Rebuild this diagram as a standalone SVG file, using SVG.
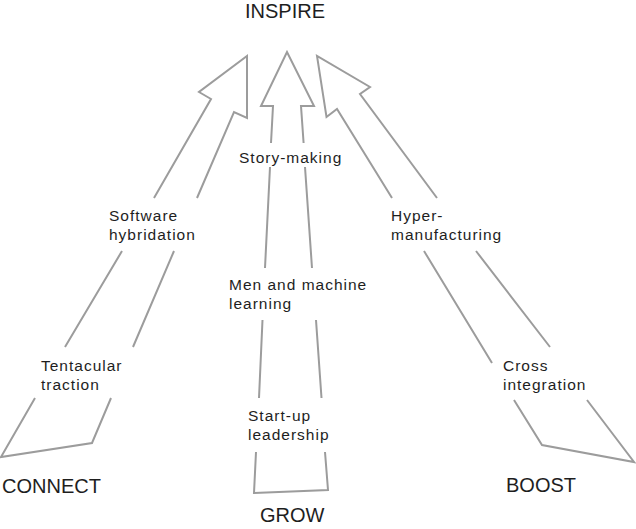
<svg xmlns="http://www.w3.org/2000/svg" width="636" height="529" viewBox="0 0 636 529">
<style>
.ln{fill:none;stroke:#9c9c9c;stroke-width:2;stroke-linejoin:miter;stroke-linecap:butt}
.lb{font-family:"Liberation Sans",Arial,sans-serif;font-size:15.5px;letter-spacing:1px;fill:#1e1e1e}
.tt{font-family:"Liberation Sans",Arial,sans-serif;font-size:20px;fill:#1e1e1e}
</style>
<rect width="636" height="529" fill="#fff"/>
<g id="connectors">
<g id="arrow-connect">
<path class="ln" d="M154,198 L211,99 L199,92 L247,56 L247,118 L234,112 L197,198"/>
<path class="ln" d="M122,251 L65,347 M174,251 L133,347"/>
<path class="ln" d="M35,398 L1,457 L92,443 L111,398"/>
</g>
<g id="arrow-grow">
<path class="ln" d="M271,143 L273,106 L261,106 L287,52 L314,106 L301,106 L303.6,143"/>
<path class="ln" d="M270,167 L265,268 M305,167 L312,268"/>
<path class="ln" d="M262.5,320 L259,398 M316,320 L321.5,398"/>
<path class="ln" d="M256,452 L254,493 L328,490 L325,452"/>
</g>
<g id="arrow-boost">
<path class="ln" d="M392,198 L337,109 L326.5,117 L317,56 L370,87 L360,94 L437,198"/>
<path class="ln" d="M424,251 L492,363 M476,251 L550,347"/>
<path class="ln" d="M514,400 L542,445 L634,462 L587,400"/>
</g>
</g>
<g id="inspire"><text class="tt" x="245" y="18">INSPIRE</text></g>
<g id="connect"><text class="tt" x="2" y="493">CONNECT</text></g>
<g id="grow"><text class="tt" x="260" y="522">GROW</text></g>
<g id="boost"><text class="tt" x="506" y="492">BOOST</text></g>
<g id="software-hybridation"><text class="lb" x="109" y="221">Software</text><text class="lb" x="109" y="240">hybridation</text></g>
<g id="tentacular-traction"><text class="lb" x="41" y="371">Tentacular</text><text class="lb" x="41" y="390">traction</text></g>
<g id="story-making"><text class="lb" x="239" y="163">Story-making</text></g>
<g id="men-machine"><text class="lb" x="229" y="290">Men and machine</text><text class="lb" x="229" y="309">learning</text></g>
<g id="start-up"><text class="lb" x="248" y="421">Start-up</text><text class="lb" x="248" y="440">leadership</text></g>
<g id="hyper-manufacturing"><text class="lb" x="391" y="221">Hyper-</text><text class="lb" x="391" y="240">manufacturing</text></g>
<g id="cross-integration"><text class="lb" x="503" y="371">Cross</text><text class="lb" x="503" y="390">integration</text></g>
</svg>
